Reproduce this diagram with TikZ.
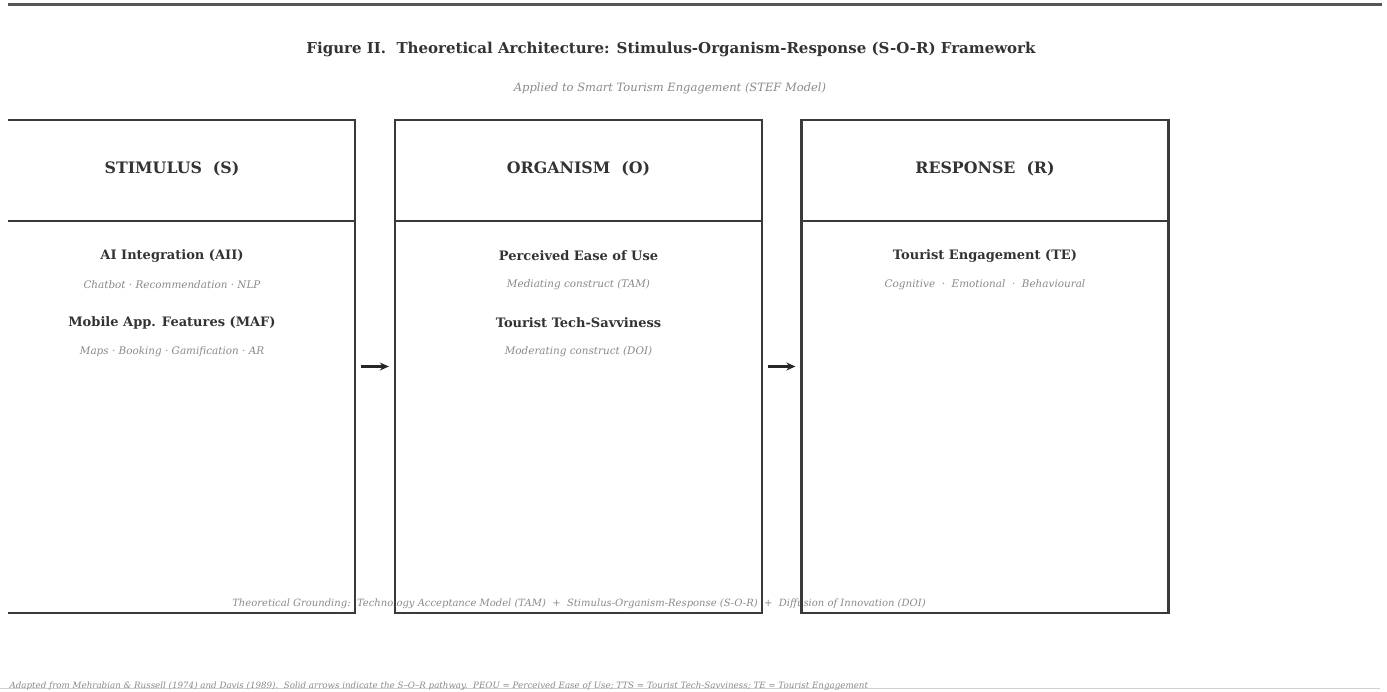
\documentclass[tikz,border=0pt]{standalone}
\usepackage{fontspec}
\setmainfont{DejaVu Serif}
\usetikzlibrary{arrows.meta}
\definecolor{ink}{HTML}{333333}
\definecolor{frame}{HTML}{3A3A3A}
\definecolor{soft}{HTML}{8A8A8A}
\definecolor{rule}{HTML}{555555}
\begin{document}
\begin{tikzpicture}[x=1pt,y=-1pt,
  column/.style={draw=frame,line width=2.3pt,minimum width=367pt,minimum height=493pt,inner sep=0pt},
  header/.style={text=ink,font=\bfseries\fontsize{15.8}{18}\selectfont},
  itemtitle/.style={text=ink,font=\bfseries\fontsize{13}{15}\selectfont},
  itemnote/.style={text=soft,font=\itshape\fontsize{10.4}{12}\selectfont},
  flow/.style={draw=black!85,line width=2.2pt,-{Stealth[length=9pt,width=8pt]}}]
\useasboundingbox (0,0) rectangle (1387,691);
\fill[white] (0,0) rectangle (1387,691);

% top and bottom rules
\draw[rule,line width=3pt] (8,4) -- (1382,4);
\draw[black!18,line width=1.4pt] (0,688.5) -- (1380,688.5);

% title block
\node[text=ink,font=\bfseries\fontsize{15}{17}\selectfont] (title) at (671,49)
  {Figure II.\ \ Theoretical Architecture: Stimulus-Organism-Response (S-O-R) Framework};
\node[text=soft,font=\itshape\fontsize{11.5}{13}\selectfont] (subtitle) at (670,88)
  {Applied to Smart Tourism Engagement (STEF Model)};

% grounding note and footer
\node[text=soft,font=\itshape\fontsize{10}{12}\selectfont] (ground) at (579,604)
  {Theoretical Grounding:\ \ Technology Acceptance Model (TAM)\ \ +\ \ Stimulus-Organism-Response (S-O-R)\ \ +\ \ Diffusion of Innovation (DOI)};
\node[text=soft,anchor=west,font=\itshape\fontsize{8.7}{10}\selectfont] (foot) at (6,686)
  {Adapted from Mehrabian \& Russell (1974) and Davis (1989).\ \ Solid arrows indicate the S--O--R pathway.\ \ PEOU = Perceived Ease of Use; TTS = Tourist Tech-Savviness; TE = Tourist Engagement};

% the three columns
\begin{scope}
  \clip (8,0) rectangle (1387,691);
  \node[column] (s) at (171.5,366.5) {};
  \draw[frame,line width=1.6pt] (s.west |- 0,221) -- (s.east |- 0,221);
\end{scope}
\node[column] (o) at (578.5,366.5) {};
\draw[frame,line width=1.6pt] (o.west |- 0,221) -- (o.east |- 0,221);
\node[column] (r) at (985,366.5) {};
\draw[frame,line width=1.6pt] (r.west |- 0,221) -- (r.east |- 0,221);

% headers
\node[header] (sh) at (172,169) {STIMULUS\ \ (S)};
\node[header] (oh) at (578.5,169) {ORGANISM\ \ (O)};
\node[header] (rh) at (985,169) {RESPONSE\ \ (R)};

% stimulus contents
\node[itemtitle] (aii) at (172,256) {AI Integration (AII)};
\node[itemnote] (aiin) at (172,285) {Chatbot · Recommendation · NLP};
\node[itemtitle] (maf) at (172,323) {Mobile App. Features (MAF)};
\node[itemnote] (mafn) at (172,352) {Maps · Booking · Gamification · AR};

% organism contents
\node[itemtitle] (peou) at (578.5,256) {Perceived Ease of Use};
\node[itemnote] (peoun) at (578.5,285) {Mediating construct (TAM)};
\node[itemtitle] (tts) at (578.5,323) {Tourist Tech-Savviness};
\node[itemnote] (ttsn) at (578.5,352) {Moderating construct (DOI)};

% response contents
\node[itemtitle] (te) at (985,256) {Tourist Engagement (TE)};
\node[itemnote] (ten) at (985,285) {Cognitive\ \ ·\ \ Emotional\ \ ·\ \ Behavioural};

% S -> O -> R pathway
\draw[flow] ([xshift=5pt]s.east) -- ([xshift=-5pt]o.west);
\draw[flow] ([xshift=5pt]o.east) -- ([xshift=-5pt]r.west);
\end{tikzpicture}
\end{document}
